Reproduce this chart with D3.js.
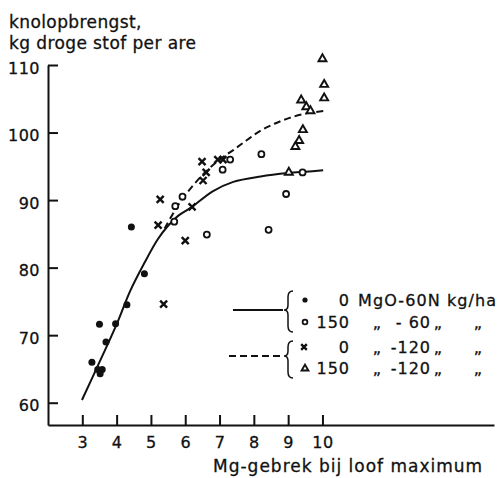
<!DOCTYPE html>
<html>
<head>
<meta charset="utf-8">
<script src="https://cdn.jsdelivr.net/npm/d3@7"></script>
<style>
    body { margin: 0; background: #fff; }
    text { font-family: "DejaVu Sans", sans-serif; fill: #111; stroke: #111; stroke-width: 0.3px; }
</style>
</head>
<body>
<div id="chart"></div>
<script>
// values: [Mg-gebrek, kg droge stof per are]
const dots0MgO60N = [[4.43, 86.0], [4.81, 79.1], [4.30, 74.5], [3.50, 71.6], [3.97, 71.7],
    [3.69, 69.0], [3.28, 66.0], [3.45, 64.9], [3.58, 64.9], [3.52, 64.3]];
const circles150MgO60N = [[5.68, 86.8], [5.71, 89.1], [5.92, 90.5], [6.63, 84.9], [7.09, 94.5],
    [7.31, 96.0], [8.22, 96.8], [8.43, 85.6], [8.94, 90.9], [9.42, 94.1]];
const crosses0MgO120N = [[5.27, 90.1], [5.21, 86.3], [5.37, 74.6], [6.00, 84.0], [6.20, 89.0],
    [6.49, 95.7], [6.52, 92.9], [6.61, 94.1], [6.95, 96.0], [7.10, 96.0]];
const triangles150MgO120N = [[10.0, 111.0], [10.05, 107.2], [10.05, 105.2], [9.38, 104.9],
    [9.53, 103.9], [9.65, 103.3], [9.43, 100.5], [9.32, 98.9], [9.21, 98.0], [9.02, 94.2]];

// hand drawn fitted curves
const curve60N = [[2.99, 60.4], [3.5, 66.0], [4.0, 71.6], [4.4, 76.6], [4.8, 80.6], [5.2, 84.2],
    [5.5, 86.2], [5.8, 87.7], [6.2, 89.0], [6.8, 91.3], [7.4, 92.7], [8.2, 93.5], [9.0, 94.0],
    [9.5, 94.2], [10.02, 94.4]];
const curve120N = [[5.4, 85.8], [5.8, 89.3], [6.2, 92.0], [6.6, 94.2], [7.0, 96.0], [7.4, 97.4],
    [7.8, 98.9], [8.2, 100.3], [8.6, 101.3], [9.0, 102.1], [9.5, 102.8], [10.05, 103.2]];

const xTicks = [3, 4, 5, 6, 7, 8, 9, 10];
const yTicks = [60, 70, 80, 90, 100, 110];
const titleLines = ["knolopbrengst,", "kg droge stof per are"];
const xTitle = "Mg-gebrek bij loof maximum";
const legendDose = ["0", "150", "0", "150"];
const legendN = ["60", "60", "120", "120"];

const W = 502, H = 478;
const svg = d3.select("#chart").append("svg").attr("width", W).attr("height", H);

const x = d3.scaleLinear().domain([2, 15]).range([48, 494]);
const y = d3.scaleLinear().domain([56.7, 110]).range([425, 65]);

// axes
const yAxis = svg.append("g")
    .attr("transform", `translate(${x(2)},0)`)
    .call(d3.axisLeft(y).tickValues(yTicks).tickSize(-10).tickSizeOuter(0).tickPadding(8));
const xAxis = svg.append("g")
    .attr("transform", `translate(0,${y(56.7)})`)
    .call(d3.axisBottom(x).tickValues(xTicks).tickSize(-10).tickSizeOuter(0).tickPadding(12));

[yAxis, xAxis].forEach((ax) => {
    ax.select(".domain").attr("stroke", "#111").attr("stroke-width", 2);
    ax.selectAll(".tick line").attr("stroke", "#111").attr("stroke-width", 2);
    ax.selectAll(".tick text").attr("font-size", 16).attr("fill", "#111")
        .attr("letter-spacing", 0.5)
        .style("font-family", "DejaVu Sans");
});
yAxis.selectAll(".tick text").attr("dy", "0.5em");

// titles
svg.selectAll(".ytitle")
    .data(titleLines)
    .enter()
    .append("text")
    .attr("class", "ytitle")
    .attr("x", 9)
    .attr("y", (d, i) => 28 + i * 21)
    .attr("font-size", 17)
    .attr("letter-spacing", 0.4)
    .text((d) => d);

svg.append("text")
    .attr("x", 213)
    .attr("y", 472)
    .attr("font-size", 17)
    .attr("letter-spacing", 1)
    .text(xTitle);

// curves
const line = d3.line()
    .x((d) => x(d[0]))
    .y((d) => y(d[1]))
    .curve(d3.curveCatmullRom.alpha(0.5));

svg.append("path")
    .attr("d", line(curve60N))
    .attr("fill", "none")
    .attr("stroke", "#111")
    .attr("stroke-width", 2);

svg.append("path")
    .attr("d", line(curve120N))
    .attr("fill", "none")
    .attr("stroke", "#111")
    .attr("stroke-width", 2)
    .attr("stroke-dasharray", "7,4");

// marker drawers
function drawDot(g, cx, cy, r) {
    g.append("circle").attr("cx", cx).attr("cy", cy).attr("r", r).attr("fill", "#111");
}
function drawCircle(g, cx, cy, r) {
    g.append("circle").attr("cx", cx).attr("cy", cy).attr("r", r)
        .attr("fill", "#fff").attr("stroke", "#111").attr("stroke-width", 1.8);
}
function drawCross(g, cx, cy, s) {
    g.append("path")
        .attr("d", `M${cx - s},${cy - s}L${cx + s},${cy + s}M${cx - s},${cy + s}L${cx + s},${cy - s}`)
        .attr("stroke", "#111").attr("stroke-width", 2.4);
}
function drawTriangle(g, cx, cy, s) {
    g.append("path")
        .attr("d", `M${cx},${cy - s}L${cx + s},${cy + s * 0.75}L${cx - s},${cy + s * 0.75}Z`)
        .attr("fill", "#fff").attr("stroke", "#111").attr("stroke-width", 1.9);
}

const marks = svg.append("g");
circles150MgO60N.forEach((d) => drawCircle(marks, x(d[0]), y(d[1]), 3));
triangles150MgO120N.forEach((d) => drawTriangle(marks, x(d[0]), y(d[1]), 4));
crosses0MgO120N.forEach((d) => drawCross(marks, x(d[0]), y(d[1]), 3.5));
dots0MgO60N.forEach((d) => drawDot(marks, x(d[0]), y(d[1]), 3.5));

// legend
const leg = svg.append("g").attr("font-size", 16);
const rowY = [306, 328, 353, 374];

leg.append("line").attr("x1", 233).attr("x2", 283).attr("y1", 310).attr("y2", 310)
    .attr("stroke", "#111").attr("stroke-width", 2);
leg.append("line").attr("x1", 229).attr("x2", 283).attr("y1", 356).attr("y2", 356)
    .attr("stroke", "#111").attr("stroke-width", 2).attr("stroke-dasharray", "7,4");

function brace(top, mid, bot) {
    const bx = 288;
    return `M${bx + 5},${top} Q${bx},${top} ${bx},${top + 6} L${bx},${mid - 5} Q${bx},${mid} ${bx - 4},${mid}` +
        ` Q${bx},${mid} ${bx},${mid + 5} L${bx},${bot - 6} Q${bx},${bot} ${bx + 5},${bot}`;
}
leg.append("path").attr("d", brace(291, 310, 332)).attr("fill", "none").attr("stroke", "#111").attr("stroke-width", 1.5);
leg.append("path").attr("d", brace(341, 356, 378)).attr("fill", "none").attr("stroke", "#111").attr("stroke-width", 1.5);

drawDot(leg, 305, rowY[0] - 6, 2.6);
drawCircle(leg, 305, rowY[1] - 6, 2.4);
drawCross(leg, 304, rowY[2] - 6, 2.8);
drawTriangle(leg, 305, rowY[3] - 6, 3.4);

legendDose.forEach((d, i) => {
    leg.append("text").attr("x", 350).attr("y", rowY[i]).attr("text-anchor", "end")
        .attr("letter-spacing", 1).text(d);
});
leg.append("text").attr("x", 358).attr("y", rowY[0]).attr("letter-spacing", 1.1)
    .text(`MgO-${legendN[0]}N kg/ha`);
for (let i = 1; i < 4; i++) {
    leg.append("text").attr("x", 377).attr("y", rowY[i]).attr("text-anchor", "middle").text("\u201e");
    leg.append("text").attr("x", 431).attr("y", rowY[i]).attr("text-anchor", "end")
        .attr("letter-spacing", 1).text(i === 1 ? `-  ${legendN[i]}` : `-${legendN[i]}`);
    leg.append("text").attr("x", 438).attr("y", rowY[i]).attr("text-anchor", "middle").text("\u201e");
    leg.append("text").attr("x", 478).attr("y", rowY[i]).attr("text-anchor", "middle").text("\u201e");
}
</script>
</body>
</html>
